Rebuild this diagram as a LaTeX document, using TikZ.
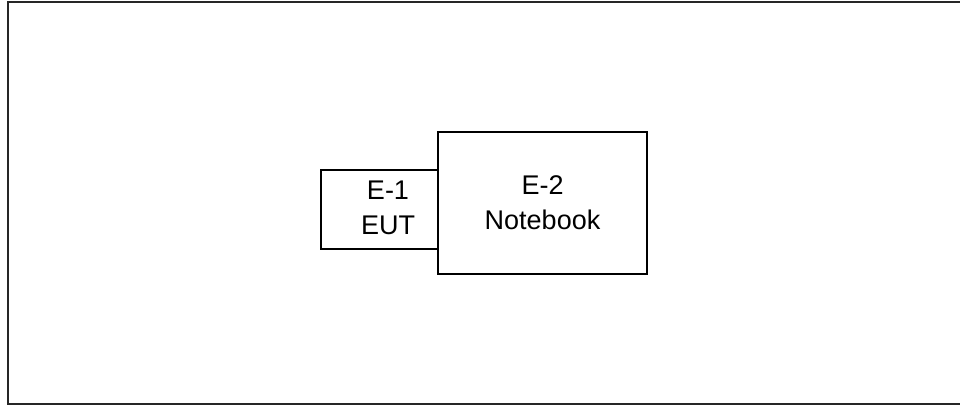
\documentclass[tikz,border=0pt]{standalone}
\usepackage{fontspec}
\setmainfont{Liberation Sans}
\begin{document}
\begin{tikzpicture}[x=1pt,y=-1pt,
  box/.style={draw=black,line width=1.6pt,fill=white,inner sep=0pt},
  lbl/.style={align=center,inner sep=0pt,font=\fontsize{27}{35}\selectfont}]
\useasboundingbox (0,0) rectangle (960,405);
\draw[line width=2pt,black!85] (975,1.5) -- (7.5,1.5) -- (7.5,403.5) -- (975,403.5);
\node[box,minimum width=117pt,minimum height=79pt] (e1) at (379.5,209.5) {};
\node[box,minimum width=209pt,minimum height=142pt] (e2) at (542.5,203) {};
\node[lbl] (e1t) at (388,208) {E-1\\EUT};
\node[lbl] (e2t) at (542.5,202.5) {E-2\\Notebook};
\end{tikzpicture}
\end{document}
